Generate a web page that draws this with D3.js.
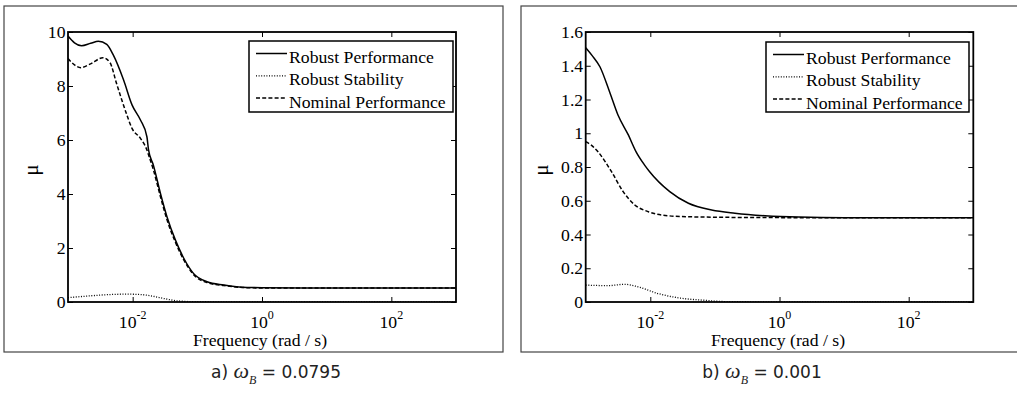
<!DOCTYPE html>
<html><head><meta charset="utf-8">
<script src="https://cdn.jsdelivr.net/npm/d3@7"></script>
<style>
html,body{margin:0;padding:0;background:#fff;}
svg{display:block;}
.serif{font-family:"Liberation Serif","Times New Roman",Tinos,"DejaVu Serif",serif;}
.cap{font-family:"DejaVu Sans","Noto Sans",sans-serif;}
.capital{font-family:"Liberation Serif","DejaVu Serif",serif;font-style:italic;}
</style></head>
<body><svg id="chart" width="1017" height="393"></svg>
<script>
// ---------- DATA ----------
const seriesNames = ["Robust Performance", "Robust Stability", "Nominal Performance"];
const xTickValues = [0.01, 1, 100];
const xTickExponents = ["-2", "0", "2"];
const yTicksA = [0, 2, 4, 6, 8, 10];
const yTicksB = [0, 0.2, 0.4, 0.6, 0.8, 1, 1.2, 1.4, 1.6];
const captions = [{label: "a) ", value: " = 0.0795"}, {label: "b) ", value: " = 0.001"}];

// panel a) omega_B = 0.0795
const freqRP_a = [0.001, 0.00126, 0.00162, 0.00224, 0.00295, 0.00398, 0.00501, 0.00724, 0.00977, 0.0132, 0.0166, 0.0176, 0.0209, 0.0269, 0.0339, 0.0457, 0.0617, 0.0871, 0.141, 0.257, 0.589, 1, 10, 1000];
const valRP_a  = [9.85, 9.60, 9.49, 9.58, 9.66, 9.54, 9.15, 8.22, 7.30, 6.74, 6.12, 5.63, 5.07, 4.02, 3.16, 2.30, 1.62, 1.06, 0.75, 0.63, 0.54, 0.53, 0.52, 0.52];
const freqRS_a = [0.001, 0.002, 0.00398, 0.00794, 0.0126, 0.02, 0.0316, 0.0501, 0.1, 1, 1000];
const valRS_a  = [0.16, 0.22, 0.27, 0.29, 0.28, 0.22, 0.12, 0.04, 0.01, 0.005, 0.005];
const freqNP_a = [0.001, 0.00126, 0.00158, 0.00224, 0.00347, 0.00447, 0.00562, 0.00813, 0.00977, 0.0132, 0.0166, 0.0176, 0.0209, 0.0269, 0.0339, 0.0457, 0.0617, 0.0871, 0.141, 0.257, 0.589, 1, 1000];
const valNP_a  = [9.02, 8.78, 8.68, 8.82, 9.05, 8.86, 8.10, 6.93, 6.43, 6.06, 5.63, 5.45, 4.90, 3.90, 3.05, 2.22, 1.56, 1.02, 0.72, 0.61, 0.53, 0.52, 0.52];

// panel b) omega_B = 0.001
const freqRP_b = [0.001, 0.00126, 0.00166, 0.00234, 0.00316, 0.00457, 0.00603, 0.00822, 0.00977, 0.02, 0.0389, 0.0891, 0.204, 0.596, 2, 10, 1000];
const valRP_b  = [1.507, 1.46, 1.394, 1.246, 1.108, 0.99, 0.89, 0.81, 0.772, 0.654, 0.585, 0.545, 0.526, 0.511, 0.503, 0.5, 0.5];
const freqRS_b = [0.001, 0.00224, 0.00398, 0.00646, 0.0132, 0.0269, 0.07, 0.162, 1, 1000];
const valRS_b  = [0.10, 0.097, 0.105, 0.09, 0.05, 0.025, 0.01, 0.002, 0.001, 0.001];
const freqNP_b = [0.001, 0.00126, 0.00155, 0.00251, 0.0038, 0.00575, 0.00933, 0.0191, 0.0389, 1, 1000];
const valNP_b  = [0.95, 0.925, 0.89, 0.772, 0.654, 0.575, 0.535, 0.511, 0.505, 0.5, 0.5];

// ---------- LAYOUT ----------
const svg = d3.select("#chart");
const fs = 17.7;
const dashes = [null, "1,1.6", "4,2.2"];

const panels = [
  {frame:[4,6,503,352], ax:[68,32,456,302], yMax:10, yTicks:yTicksA, yFmt:d3.format("d"),
   legend:[249,41,453,112], mu:[32,170], xlabel:260, cap:[276,378],
   series:[[freqRP_a,valRP_a],[freqRS_a,valRS_a],[freqNP_a,valNP_a]]},
  {frame:[521,6,1030,352], ax:[585.7,32,973.3,302], yMax:1.6, yTicks:yTicksB, yFmt:d => String(+d.toFixed(1)),
   legend:[766,42,969,112], mu:[542,170], xlabel:778, cap:[762,378],
   series:[[freqRP_b,valRP_b],[freqRS_b,valRS_b],[freqNP_b,valNP_b]]}
];

panels.forEach((p, pi) => {
  const g = svg.append("g");
  g.append("rect").attr("x", p.frame[0]).attr("y", p.frame[1])
    .attr("width", p.frame[2]-p.frame[0]).attr("height", p.frame[3]-p.frame[1])
    .attr("fill", "none").attr("stroke", "#444").attr("stroke-width", 1.2);

  const [x0,y0,x1,y1] = p.ax;
  const x = d3.scaleLog().domain([1e-3, 1e3]).range([x0, x1]);
  const y = d3.scaleLinear().domain([0, p.yMax]).range([y1, y0]);

  const cid = "clip"+pi;
  g.append("clipPath").attr("id", cid).append("rect")
    .attr("x", x0).attr("y", y0).attr("width", x1-x0).attr("height", y1-y0);

  const line = d3.line().x(d => x(d[0])).y(d => y(d[1])).curve(d3.curveMonotoneX);
  p.series.forEach((s, si) => {
    const pts = s[0].map((f, i) => [f, s[1][i]]);
    g.append("path").attr("d", line(pts)).attr("fill", "none")
      .attr("stroke", "#000").attr("stroke-width", si === 1 ? 1.3 : 1.5)
      .attr("stroke-dasharray", dashes[si]).attr("clip-path", `url(#${cid})`);
  });

  const tl = 5;
  const axB = d3.axisBottom(x).tickValues(xTickValues).tickSizeInner(-tl).tickSizeOuter(0).tickFormat("");
  const axT = d3.axisTop(x).tickValues(xTickValues).tickSizeInner(-tl).tickSizeOuter(0).tickFormat("");
  const axL = d3.axisLeft(y).tickValues(p.yTicks).tickSizeInner(-tl).tickSizeOuter(0).tickFormat("");
  const axR = d3.axisRight(y).tickValues(p.yTicks).tickSizeInner(-tl).tickSizeOuter(0).tickFormat("");
  [[axB,`translate(0,${y1})`],[axT,`translate(0,${y0})`],[axL,`translate(${x0},0)`],[axR,`translate(${x1},0)`]]
    .forEach(([a,t]) => {
      const ag = g.append("g").attr("transform", t).call(a);
      ag.select(".domain").remove();
      ag.selectAll(".tick line").attr("stroke", "#000").attr("stroke-width", 1);
    });
  g.append("rect").attr("x", x0).attr("y", y0).attr("width", x1-x0).attr("height", y1-y0)
    .attr("fill", "none").attr("stroke", "#000").attr("stroke-width", 1.8);

  xTickValues.forEach((v, i) => {
    const t = g.append("text").attr("class", "serif").attr("x", x(v)).attr("y", y1 + 25.5)
      .attr("text-anchor", "middle").attr("font-size", fs).attr("fill", "#000");
    t.append("tspan").text("10");
    t.append("tspan").attr("dy", -9).attr("font-size", 12).text(xTickExponents[i]);
  });
  p.yTicks.forEach(v => {
    g.append("text").attr("class", "serif").attr("x", x0 - 2.5).attr("y", y(v)).attr("dy", "0.34em")
      .attr("text-anchor", "end").attr("font-size", fs).attr("fill", "#000")
      .text(p.yFmt(v));
  });
  g.append("text").attr("class", "serif").attr("x", p.xlabel).attr("y", 345.5).attr("text-anchor", "middle")
    .attr("font-size", fs).attr("fill", "#000").text("Frequency (rad / s)");
  g.append("text").attr("class", "serif").attr("transform", `translate(${p.mu[0]},${p.mu[1]}) rotate(-90)`)
    .attr("text-anchor", "middle").attr("dy", "0.3em")
    .attr("font-size", 21).attr("fill", "#000").text("μ");

  const [lx0,ly0,lx1,ly1] = p.legend;
  g.append("rect").attr("x", lx0).attr("y", ly0).attr("width", lx1-lx0).attr("height", ly1-ly0)
    .attr("fill", "#fff").attr("stroke", "#000").attr("stroke-width", 1.5);
  seriesNames.forEach((name, si) => {
    const by = ly0 + 22 + si*22.3;
    g.append("line").attr("x1", lx0 + 7).attr("x2", lx0 + 38).attr("y1", by - 9.5).attr("y2", by - 9.5)
      .attr("stroke", "#000").attr("stroke-width", si === 1 ? 1.2 : 1.5).attr("stroke-dasharray", dashes[si]);
    g.append("text").attr("class", "serif").attr("x", lx0 + 40).attr("y", by).attr("font-size", fs)
      .attr("fill", "#000").text(name);
  });

  const c = captions[pi];
  const ct = g.append("text").attr("class", "cap").attr("x", p.cap[0]).attr("y", p.cap[1]).attr("text-anchor", "middle")
    .attr("font-size", 17).attr("fill", "#222");
  ct.append("tspan").text(c.label);
  ct.append("tspan").attr("class", "capital").attr("font-size", 22).text("ω");
  ct.append("tspan").attr("class", "capital").attr("font-size", 12).attr("dy", 6).text("B");
  ct.append("tspan").attr("dy", -6).text(c.value);
});
</script></body></html>
